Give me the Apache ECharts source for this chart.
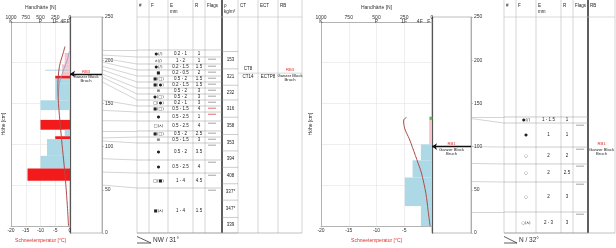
<!DOCTYPE html>
<html><head><meta charset="utf-8">
<script src="https://cdn.jsdelivr.net/npm/echarts@6/dist/echarts.min.js"></script>
<style>html,body{margin:0;padding:0;background:#fff}#c{width:616px;height:248px}</style>
</head><body><div id="c"></div>
<script>
// ---------------- data ----------------
const hardLetterVals = [1000, 500, 250, 110, 30];
const hardLetters = ['K', 'P', '1F', '4F', 'F'];

// left profile  (NW / 31°)
const leftLayerH = [212, 206, 202.5, 198, 193, 189, 184, 180.5, 175, 154, 142, 130, 118, 110, 106.5, 86, 70.5, 55.5, 0];
const leftHard   = [90, 90, 90, 135, 135, 135, 250, 250, 250, 500, 0, 500, 90, 250, 390, 500, 720, 0];
const leftKind   = ['p','p','p','p','p','p','r','b','b','b','b','r','b','r','b','b','r','b'];
const leftCrustTop = [191.4];
const leftCrustBottom = [190.6];
const leftCrustHard = [420];
const leftTempH = [220, 212, 200, 190, 175, 150, 120, 100, 75, 50, 25, 0];
const leftTempT = [-1.7, -2.3, -3.3, -3.8, -4.1, -3.9, -3.2, -2.7, -2.0, -1.4, -0.9, -0.5];
const leftTemp2H = [214, 205, 195, 185, 175, 160];
const leftTemp2T = [-0.2, -0.8, -1.8, -2.8, -3.6, -3.95];
const leftRbH = 184;
const leftRbText = ['RB3', 'Ganzer Block', 'Bruch'];

const leftTableH = [211.8, 203.7, 195.6, 188.7, 181.7, 174.8, 167.8, 160.9, 153.9, 147.0, 140.0, 129.6, 118.1, 111.1, 104.2, 84.5, 69.4, 52.1, 0];
const leftF = ['●(/)','ʌ(/)','●(/)','■','■(□)','■(●)','⊞','●(□)','□(●)','■(□)','●','□(ʌ)','■(□)','⊞','●','●','□(■)','■(ʌ)'];
const leftE = ['0.2 - 1','1 - 2','0.2 - 1.5','0.2 - 0.5','0.5 - 2','0.2 - 1.5','0.5 - 2','0.5 - 2','0.2 - 1','0.5 - 1.5','0.5 - 2.5','0.5 - 2.5','0.5 - 2','0.5 - 1.5','0.5 - 2','0.5 - 2.5','1 - 4','1 - 4'];
const leftR = ['1','1','1.5','2','1.5','1.5','3','3','3','4','1','4','2.5','3','3.5','4','4.5','1.5'];
const leftFlags = ['','g','g','g','g','g','g','g','g','r','r','g','g','g','g','g','g','g'];
const densityH = [210, 190, 171, 154, 134, 114, 95, 76, 57, 38, 18, 0];
const densityVal = ['153','321','232','316','358','353','394','408','337*','347*','339'];
const testLineH = 185;
const ctTexts = ['CT8', 'CT14'];
const ctTextH = [190, 180.5];
const ectTexts = ['ECTP8'];
const ectTextH = [180.5];

// right profile (N / 32°)
const rightLayerH = [134, 132.5, 100, 80.5, 59.5, 24.5, 0];
const rightHard = [25, 25, 100, 175, 245, 100];
const rightKind = ['p','p','b','b','b','b'];
const rightTempH = [133, 130, 119, 107, 96, 77, 65, 40, 19, 0];
const rightTempT = [-4.6, -5.1, -4.9, -4.1, -3.5, -2.5, -1.9, -1.1, -0.7, -0.35];
const rightSurfaceH = [132];
const rightRbH = 100;
const rightRbText = ['RB1', 'Ganzer Block', 'Bruch'];
const rightTableH = [134.3, 127.3, 99.5, 79.9, 59.0, 24.3, 0];
const rightF = ['●(/)','●','○','○','○','○(ʌ)'];
const rightE = ['1 - 1.5','1','2','2','2','2 - 3'];
const rightR = ['1','1','2','2.5','3','3'];
const rightFlags = ['','g','g','g','g','g'];

const slopeTexts = ['NW / 31°', 'N / 32°'];

// ---------------- layout / helpers ----------------
const FONT = '"Liberation Sans", Arial, sans-serif';
const TOP = 17, H = 216;
const kindColor = {p: '#f5c3cc', b: '#add8e6', r: '#f21a1a'};
const lab = {fontSize: 5, color: '#333', fontFamily: FONT};

function txt(x, y, s, o) {
  return {type: 'text', style: Object.assign({x: x, y: y, text: s, fill: '#222', fontSize: 4.5, fontFamily: FONT, align: 'center', verticalAlign: 'middle'}, o || {})};
}
function ln(x1, y1, x2, y2, c, w) {
  return {type: 'line', shape: {x1: x1, y1: y1, x2: x2, y2: y2}, style: {stroke: c || '#999', lineWidth: w || 0.5}};
}
function tempAxis(g, hideZero) {
  return {type: 'value', gridIndex: g, position: 'bottom', min: -20, max: 0, interval: 5,
    axisLine: {show: true, onZero: false, lineStyle: {color: '#999', width: 0.7}}, axisTick: {show: false},
    axisLabel: Object.assign({margin: 2, formatter: v => (hideZero && v === 0) ? '' : String(v)}, lab),
    splitLine: {show: true, lineStyle: {color: '#e2e2e2', width: 0.6}},
    name: 'Schneetemperatur [°C]', nameLocation: 'middle', nameGap: 8,
    nameTextStyle: {fontSize: 5, color: '#e03030', fontFamily: FONT}};
}
function hardAxis(g) {
  return {type: 'value', gridIndex: g, position: 'top', min: 0, max: 1000, interval: 250, inverse: true,
    axisLine: {show: true, onZero: false, lineStyle: {color: '#999', width: 0.7}}, axisTick: {show: false},
    axisLabel: Object.assign({margin: 2, formatter: v => String(v)}, lab), splitLine: {show: false},
    name: 'Handhärte [N]', nameLocation: 'middle', nameGap: 10,
    nameTextStyle: {fontSize: 5, color: '#333', fontFamily: FONT}};
}
function letterAxis(g) {
  return {type: 'value', gridIndex: g, position: 'top', min: 0, max: 1000, inverse: true,
    axisLine: {show: false, onZero: false}, axisTick: {show: false}, splitLine: {show: false},
    axisLabel: Object.assign({inside: true, margin: 2, showMinLabel: true, showMaxLabel: true, customValues: hardLetterVals,
      formatter: v => hardLetters[hardLetterVals.indexOf(v)] || ''}, lab)};
}
function hid(g, min, max) { return {type: 'value', gridIndex: g, min: min, max: max, show: false, axisLine: {onZero: false}}; }
function hLeft(g, gap) {
  return {type: 'value', gridIndex: g, position: 'left', min: 0, max: 250, interval: 50,
    axisLine: {show: true, onZero: false, lineStyle: {color: '#999', width: 0.7}}, axisTick: {show: false}, axisLabel: {show: false},
    splitLine: {show: true, lineStyle: {color: '#e2e2e2', width: 0.6}},
    name: 'Höhe [cm]', nameLocation: 'middle', nameGap: gap, nameRotate: 90,
    nameTextStyle: {fontSize: 5, color: '#333', fontFamily: FONT}};
}
function hRight(g) {
  return {type: 'value', gridIndex: g, position: 'right', min: 0, max: 250, interval: 50,
    axisLine: {show: true, onZero: false, lineStyle: {color: '#999', width: 0.7}},
    axisTick: {show: true, length: 2, lineStyle: {color: '#999', width: 0.5}},
    axisLabel: Object.assign({margin: 3}, lab), splitLine: {show: false}};
}
function zeroLine(g) {
  return {type: 'value', gridIndex: g, position: 'left', min: 0, max: 250,
    axisLine: {show: true, onZero: false, lineStyle: {color: '#555', width: 1.2}},
    axisTick: {show: false}, axisLabel: {show: false}, splitLine: {show: false}};
}

function barSeries(xi, yi, hard, layerH, kinds) {
  return {type: 'custom', xAxisIndex: xi, yAxisIndex: yi, z: 2,
    data: hard.map((n, i) => [n, layerH[i], layerH[i + 1], i]),
    renderItem: (p, api) => {
      const a = api.coord([api.value(0), api.value(1)]), b = api.coord([0, api.value(2)]);
      return {type: 'rect', shape: {x: a[0], y: a[1], width: b[0] - a[0], height: b[1] - a[1]},
        style: {fill: kindColor[kinds[api.value(3)]]}};
    }};
}
// temperature profile drawn as one smoothed polyline through the axis scales
function tempSeries(xi, yi, H_, T_, color, w) {
  return {type: 'custom', xAxisIndex: xi, yAxisIndex: yi, z: 8,
    data: [[T_[0], H_[0]]],
    renderItem: (p, api) => {
      const pts = H_.map((h, i) => api.coord([T_[i], h]));
      return {type: 'polyline', shape: {points: pts, smooth: 0.3}, style: {stroke: color, lineWidth: w, fill: null}};
    }};
}
function arrowSeries(xi, yi, h) {
  return {type: 'lines', coordinateSystem: 'cartesian2d', xAxisIndex: xi, yAxisIndex: yi, z: 5,
    symbol: ['none', 'arrow'], symbolSize: 5,
    data: [{coords: [[1, h], [0, h]]}], lineStyle: {color: '#111', width: 1.3, opacity: 1}};
}
function rbLabelSeries(xi, yi, xc, h, texts) {
  return {type: 'custom', xAxisIndex: xi, yAxisIndex: yi, z: 6, data: [[xc, h]],
    renderItem: (p, api) => {
      const c = api.coord([api.value(0), api.value(1)]);
      return {type: 'group', children: [
        txt(c[0], c[1] - 2.5, texts[0], {fill: '#e03030', fontSize: 4.2}),
        txt(c[0], c[1] + 3, texts[1], {fontSize: 4.2}),
        txt(c[0], c[1] + 7.3, texts[2], {fontSize: 4.2})]};
    }};
}
function fanSeries(xi, yi, layerH, tableH) {
  return {type: 'lines', coordinateSystem: 'cartesian2d', xAxisIndex: xi, yAxisIndex: yi, z: 3,
    data: layerH.slice(0, -1).map((h, i) => ({coords: [[0, h], [1, tableH[i]]]})),
    lineStyle: {color: '#a8a8a8', width: 0.5, opacity: 1}};
}
function frameSeries(xi, yi, cols, thick, heads, subs) {
  return {type: 'custom', xAxisIndex: xi, yAxisIndex: yi, z: 3, data: [[0, 0]],
    renderItem: (p, api) => {
      const yh = api.coord([0, 250])[1], yb = api.coord([0, 0])[1], y0 = yh - TOP;
      const X = c => api.coord([c, 0])[0];
      const ch = [];
      cols.forEach((c, k) => {
        const t = k === thick;
        ch.push(ln(X(c), y0, X(c), yb, t ? '#1a1a1a' : '#b8b8b8', t ? 1.4 : 0.6));
      });
      ch.push(ln(X(cols[0]), yh, X(cols[cols.length - 1]), yh, '#c0c0c0', 0.6));
      ch.push(ln(X(cols[0]), yb, X(cols[cols.length - 1]), yb, '#999', 0.6));
      heads.forEach((h, k) => {
        ch.push(txt(X(cols[k]) + 2, y0 + 6, h, {align: 'left'}));
        if (subs[k]) ch.push(txt(X(cols[k]) + 2, y0 + 12, subs[k], {align: 'left'}));
      });
      return {type: 'group', children: ch};
    }};
}
function rowSeries(xi, yi, cols, rowH, F, E, R, flags) {
  return {type: 'custom', xAxisIndex: xi, yAxisIndex: yi, z: 3,
    data: F.map((f, i) => [i, rowH[i]]),
    renderItem: (p, api) => {
      const i = p.dataIndex;
      const X = c => api.coord([c, 0])[0];
      const yt = api.coord([0, rowH[i]])[1], yb = api.coord([0, rowH[i + 1]])[1], ym = (yt + yb) / 2;
      const end = X(cols[5]);
      const ch = [];
      if (i === 0) ch.push(ln(X(cols[0]), yt, end, yt, '#999', 0.5));
      ch.push(ln(X(cols[0]), yb, end, yb, '#999', 0.5));
      ch.push(txt((X(cols[1]) + X(cols[2])) / 2, ym, F[i], {fontFamily: '"DejaVu Sans", sans-serif', fontSize: 4}));
      ch.push(txt((X(cols[2]) + X(cols[3])) / 2, ym, E[i]));
      ch.push(txt((X(cols[3]) + X(cols[4])) / 2, ym, R[i]));
      if (flags[i]) ch.push(ln(X(cols[4]) + 3, yt + 2.2, X(cols[4]) + 11, yt + 2.2, flags[i] === 'r' ? '#e06060' : '#9a9a9a', 0.9));
      return {type: 'group', children: ch};
    }};
}

// columns of the two tables (layout, px from table left edge)
const colsL = [0, 12, 31, 56, 68, 85, 101, 121, 141, 165];
const colsR = [0, 12, 32, 57, 69, 84, 111];

const option = {
  animation: false,
  backgroundColor: '#fff',
  grid: [
    {left: 11, top: TOP, width: 59, height: H},
    {left: 70, top: TOP, width: 32, height: H, show: true, borderColor: '#a0a0a0', borderWidth: 0.7},
    {left: 102, top: TOP, width: 35, height: H},
    {left: 137, top: TOP, width: 165, height: H},
    {left: 321, top: TOP, width: 111, height: H},
    {left: 432, top: TOP, width: 39, height: H, show: true, borderColor: '#a0a0a0', borderWidth: 0.7},
    {left: 471, top: TOP, width: 33, height: H},
    {left: 504, top: TOP, width: 111, height: H},
    {left: 11, top: TOP, width: 59, height: H},
    {left: 321, top: TOP, width: 111, height: H}
  ],
  xAxis: [
    tempAxis(0, false), hardAxis(0), hid(1, 0, 1), hid(2, 0, 1), hid(3, 0, 165),
    tempAxis(4, true), hardAxis(4), hid(5, 0, 1), hid(6, 0, 1), hid(7, 0, 111),
    letterAxis(8), letterAxis(9)
  ],
  yAxis: [
    hLeft(0, 5), hRight(1), zeroLine(1), hid(2, 0, 250), hid(3, 0, 250),
    hLeft(4, 8), hRight(5), zeroLine(5), hid(6, 0, 250), hid(7, 0, 250),
    hid(8, 0, 250), hid(9, 0, 250)
  ],
  series: [
    // left profile
    barSeries(1, 0, leftHard, leftLayerH, leftKind),
    {type: 'custom', xAxisIndex: 1, yAxisIndex: 0, z: 2,
      data: leftCrustHard.map((n, i) => [n, leftCrustTop[i], leftCrustBottom[i]]),
      renderItem: (p, api) => {
        const a = api.coord([api.value(0), api.value(1)]), b = api.coord([0, api.value(2)]);
        return {type: 'rect', shape: {x: a[0], y: a[1], width: b[0] - a[0], height: Math.max(0.8, b[1] - a[1])}, style: {fill: '#9ecbe0'}};
      }},
    tempSeries(0, 0, leftTemp2H, leftTemp2T, '#9095c0', 0.8),
    tempSeries(0, 0, leftTempH, leftTempT, '#b04c48', 1),
    arrowSeries(2, 1, leftRbH),
    rbLabelSeries(2, 1, 0.5, leftRbH, leftRbText),
    fanSeries(3, 3, leftLayerH, leftTableH),
    frameSeries(4, 4, colsL, 5, ['#', 'F', 'E', 'R', 'Flags', 'ρ', 'CT', 'ECT', 'RB'], ['', '', 'mm', '', '', 'kg/m³', '', '', '']),
    rowSeries(4, 4, colsL, leftTableH, leftF, leftE, leftR, leftFlags),
    {type: 'custom', xAxisIndex: 4, yAxisIndex: 4, z: 3,
      data: densityVal.map((v, i) => [i, densityH[i]]),
      renderItem: (p, api) => {
        const i = p.dataIndex;
        const x0 = api.coord([colsL[5], 0])[0], x1 = api.coord([colsL[6], 0])[0];
        const yt = api.coord([0, densityH[i]])[1], yb = api.coord([0, densityH[i + 1]])[1];
        const ch = [ln(x0, yb, x1, yb, '#999', 0.5), txt((x0 + x1) / 2 + 0.5, (yt + yb) / 2, densityVal[i])];
        if (i === 0) ch.push(ln(x0, yt, x1, yt, '#999', 0.5));
        return {type: 'group', children: ch};
      }},
    {type: 'custom', xAxisIndex: 4, yAxisIndex: 4, z: 3, data: [[0, testLineH]],
      renderItem: (p, api) => {
        const X = c => api.coord([c, 0])[0], Y = h => api.coord([0, h])[1];
        const ch = [ln(X(colsL[6]), Y(testLineH), X(colsL[9]), Y(testLineH), '#b0b0b0', 0.5)];
        ctTexts.forEach((t, k) => ch.push(txt((X(colsL[6]) + X(colsL[7])) / 2, Y(ctTextH[k]), t)));
        ectTexts.forEach((t, k) => ch.push(txt((X(colsL[7]) + X(colsL[8])) / 2, Y(ectTextH[k]), t)));
        return {type: 'group', children: ch};
      }},
    rbLabelSeries(4, 4, (colsL[8] + colsL[9]) / 2, testLineH + 0.5, leftRbText),

    // right profile
    barSeries(6, 5, rightHard, rightLayerH, rightKind),
    tempSeries(5, 5, rightTempH, rightTempT, '#b04c48', 1),
    {type: 'scatter', xAxisIndex: 6, yAxisIndex: 5, z: 6, symbol: 'rect', symbolSize: 3,
      data: rightSurfaceH.map(h => [8, h]), itemStyle: {color: '#2db82d'}},
    arrowSeries(7, 6, rightRbH),
    rbLabelSeries(7, 6, 0.5, rightRbH, rightRbText),
    fanSeries(8, 8, rightLayerH, rightTableH),
    frameSeries(9, 9, colsR, 5, ['#', 'F', 'E', 'R', 'Flags', 'RB'], ['', '', 'mm', '', '', '']),
    rowSeries(9, 9, colsR, rightTableH, rightF, rightE, rightR, rightFlags),
    rbLabelSeries(9, 9, (colsR[5] + colsR[6]) / 2, rightRbH, rightRbText)
  ],
  graphic: [
    {type: 'polyline', shape: {points: [[137, 236.5], [151, 243], [137, 243]]}, style: {stroke: '#333', lineWidth: 0.8, fill: null}},
    {type: 'text', x: 153, y: 240, style: {text: slopeTexts[0], fontSize: 6.5, fontFamily: FONT, fill: '#333', verticalAlign: 'middle'}},
    {type: 'polyline', shape: {points: [[504, 236.5], [517, 243], [504, 243]]}, style: {stroke: '#333', lineWidth: 0.8, fill: null}},
    {type: 'text', x: 519, y: 240, style: {text: slopeTexts[1], fontSize: 6.5, fontFamily: FONT, fill: '#333', verticalAlign: 'middle'}}
  ]
};
const chart = echarts.init(document.getElementById('c'), null, {renderer: 'canvas', width: 616, height: 248});
chart.setOption(option);
</script>
</body></html>
